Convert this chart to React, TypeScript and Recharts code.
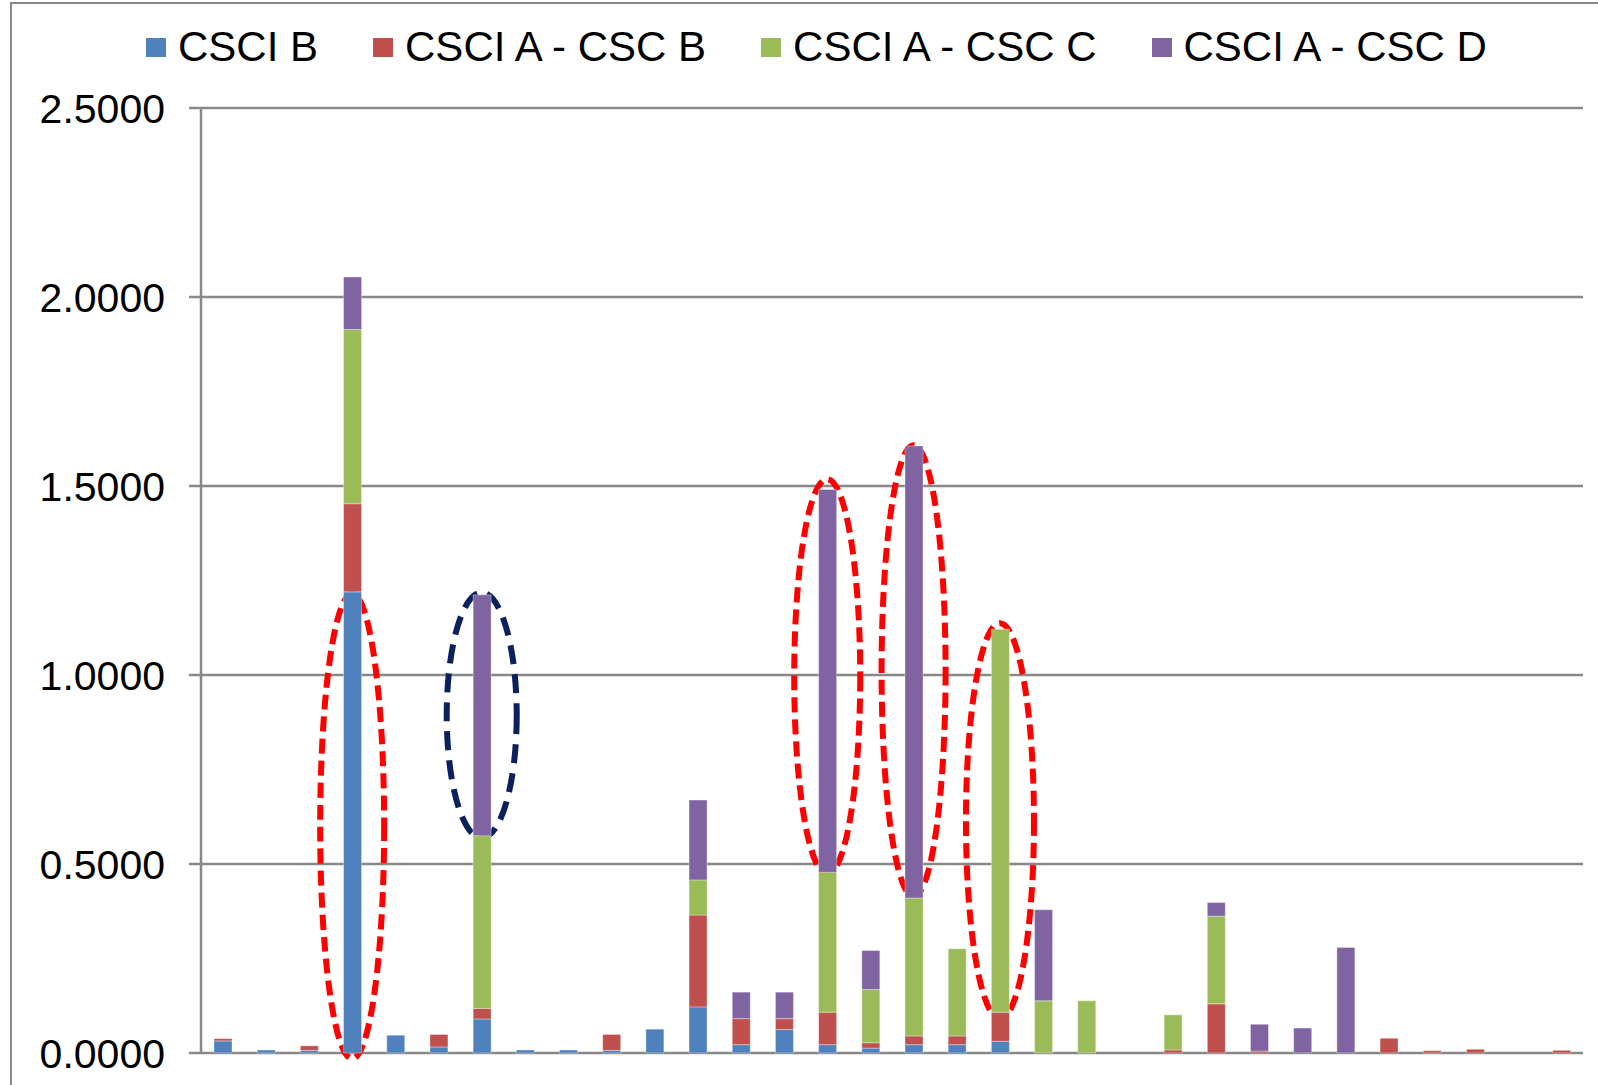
import { BarChart, Bar, XAxis, YAxis, CartesianGrid, Legend, ReferenceArea } from 'recharts'

const categories = Array.from({ length: 32 }, (_, i) => String(i + 1))

const csciB = [
  0.032, 0.008, 0.007, 1.22, 0.047, 0.016, 0.09, 0.008, 0.008, 0.007, 0.063, 0.122, 0.022, 0.062, 0.022, 0.013,
  0.022, 0.022, 0.031, 0, 0, 0, 0, 0, 0, 0, 0, 0, 0, 0, 0, 0,
]
const cscB = [
  0.006, 0, 0.012, 0.233, 0, 0.033, 0.028, 0, 0, 0.042, 0, 0.243, 0.069, 0.029, 0.086, 0.014,
  0.023, 0.023, 0.077, 0, 0, 0, 0.008, 0.13, 0.005, 0, 0, 0.039, 0.006, 0.01, 0, 0.007,
]
const cscC = [
  0, 0, 0, 0.461, 0, 0, 0.457, 0, 0, 0, 0, 0.093, 0, 0, 0.37, 0.141,
  0.365, 0.231, 1.013, 0.138, 0.138, 0, 0.093, 0.232, 0, 0, 0, 0, 0, 0, 0, 0,
]
const cscD = [
  0, 0, 0, 0.139, 0, 0, 0.637, 0, 0, 0, 0, 0.211, 0.07, 0.07, 1.013, 0.103,
  1.196, 0, 0, 0.241, 0, 0, 0, 0.036, 0.071, 0.066, 0.279, 0, 0, 0, 0, 0,
]

const yTicks = [0, 0.5, 1, 1.5, 2, 2.5]

// highlighted bars: category, y range covered, half width, colour
const highlights = [
  { cat: '4', y1: -0.015, y2: 1.215, rx: 32, color: '#ff0000', dash: '15 7' },
  { cat: '7', y1: 0.569, y2: 1.218, rx: 35, color: '#0b215c', dash: '19 10' },
  { cat: '15', y1: 0.473, y2: 1.518, rx: 33, color: '#ff0000', dash: '15 7' },
  { cat: '17', y1: 0.414, y2: 1.608, rx: 32, color: '#ff0000', dash: '15 7' },
  { cat: '19', y1: 0.09, y2: 1.137, rx: 34, color: '#ff0000', dash: '15 7' },
]

const series = [
  { key: 'b', name: 'CSCI B', color: '#4f81bd' },
  { key: 'ab', name: 'CSCI A - CSC B', color: '#c0504d' },
  { key: 'ac', name: 'CSCI A - CSC C', color: '#9bbb59' },
  { key: 'ad', name: 'CSCI A - CSC D', color: '#8064a2' },
]

const rows = categories.map((c, i) => ({ name: c, b: csciB[i], ab: cscB[i], ac: cscC[i], ad: cscD[i] }))

const FONT = '"Liberation Sans", Arial, sans-serif'
const GRAY = '#888888'

function TopLegend() {
  return (
    <div style={{ display: 'flex', alignItems: 'center', fontFamily: FONT, fontSize: 42, color: '#000', paddingLeft: 146 }}>
      {series.map(s => (
        <div key={s.key} style={{ display: 'flex', alignItems: 'center', marginRight: 55 }}>
          <span style={{ width: 20, height: 19, background: s.color, display: 'inline-block', marginRight: 12 }} />
          <span style={{ lineHeight: '46px' }}>{s.name}</span>
        </div>
      ))}
    </div>
  )
}

export default function App() {
  return (
    <div style={{ position: 'absolute', left: 0, top: 0, width: 1598, height: 1085, overflow: 'hidden', background: '#fff' }}>
      <div style={{ position: 'absolute', left: 10, top: 2, width: 1700, height: 1200, border: `2px solid ${GRAY}` }} />
      <BarChart
        width={1598}
        height={1085}
        data={rows}
        margin={{ top: 62, right: 15, bottom: 32, left: 0 }}
        barSize={18}
        style={{ position: 'absolute', left: 0, top: 0 }}
      >
        <CartesianGrid vertical={false} stroke={GRAY} strokeWidth={2.5} />
        <XAxis dataKey="name" tick={false} tickLine={false} axisLine={{ stroke: GRAY, strokeWidth: 2.5 }} height={0} />
        <YAxis
          width={201}
          domain={[0, 2.5]}
          ticks={yTicks}
          interval={0}
          tickFormatter={v => Number(v).toFixed(4)}
          tick={{ fill: '#000', fontSize: 41, fontFamily: FONT }}
          tickSize={12}
          tickMargin={24}
          tickLine={{ stroke: GRAY, strokeWidth: 2.5 }}
          axisLine={{ stroke: GRAY, strokeWidth: 2.5 }}
        />
        <Legend verticalAlign="top" content={() => <TopLegend />} wrapperStyle={{ top: 24, left: 0, width: 1598 }} />
        {series.map(s => (
          <Bar
            key={s.key}
            dataKey={s.key}
            name={s.name}
            stackId="a"
            fill={s.color}
            stroke="#ffffff"
            strokeOpacity={0.35}
            strokeWidth={1}
            isAnimationActive={false}
          />
        ))}
        {highlights.map(h => (
          <ReferenceArea
            key={h.cat}
            x1={h.cat}
            x2={h.cat}
            y1={h.y1}
            y2={h.y2}
            ifOverflow="visible"
            shape={(p: any) => (
              <ellipse
                cx={p.x + p.width / 2}
                cy={p.y + p.height / 2}
                rx={h.rx}
                ry={Math.abs(p.height) / 2}
                fill="none"
                stroke={h.color}
                strokeWidth={6}
                strokeDasharray={h.dash}
              />
            )}
          />
        ))}
      </BarChart>
    </div>
  )
}
